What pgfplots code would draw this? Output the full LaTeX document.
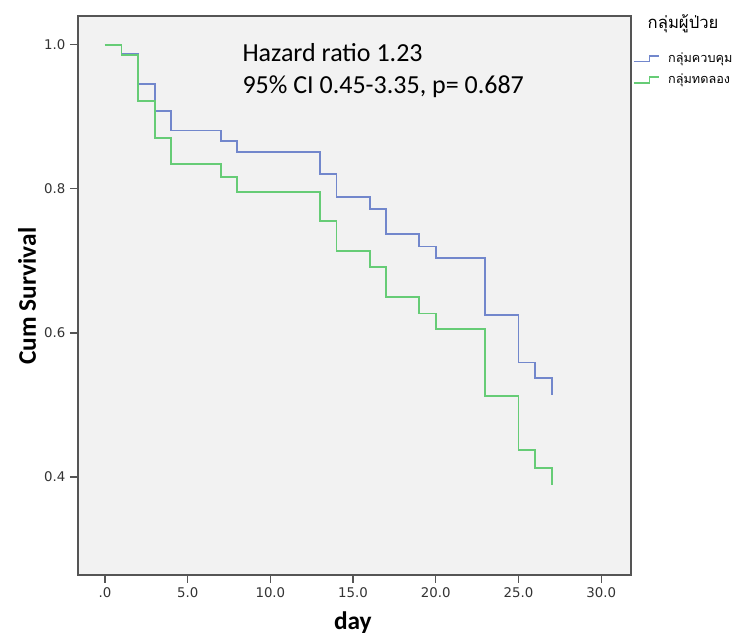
\documentclass[border=0pt]{standalone}
\usepackage{fontspec}
\setmainfont{Carlito}
\newfontfamily\tickfont{DejaVu Sans}
\newfontfamily\thaifont[Script=Thai]{Loma}
\usepackage{pgfplots}
\pgfplotsset{compat=1.18}
\definecolor{kmblue}{HTML}{7287CC}
\definecolor{kmgreen}{HTML}{66CC76}
\definecolor{framegray}{HTML}{555555}

\begin{document}
\begin{tikzpicture}
  \path[use as bounding box] (-58.5pt,-45pt) rectangle (495.75pt,431.25pt);
  \begin{axis}[
    at={(0pt,0pt)}, anchor=south west,
    scale only axis, width=414.75pt, height=419.25pt,
    xmin=-1.63, xmax=31.8, ymin=0.264, ymax=1.040,
    clip mode=individual,
    xtick={0,5,...,30}, xticklabels={.0,5.0,10.0,15.0,20.0,25.0,30.0},
    ytick={0.4,0.6,0.8,1.0}, yticklabels={0.4,0.6,0.8,1.0},
    tick align=outside, xtick pos=bottom, ytick pos=left,
    major tick length=6pt,
    tick style={framegray, line width=0.9pt},
    ticklabel style={font=\tickfont\fontsize{10}{12}\selectfont, text=black!80},
    axis line style={framegray, line width=1pt},
    axis background/.style={fill=black!5},
    xlabel={\bfseries day}, ylabel={\bfseries Cum Survival},
    label style={font=\fontsize{19}{22}\selectfont},
    xlabel style={at={(axis description cs:0.497,-0.098)}, anchor=base},
    ylabel style={at={(axis description cs:-0.092,0.499)}, anchor=center},
    legend style={at={(1.0,0.944)}, anchor=north west, draw=none, fill=none,
      font=\thaifont\fontsize{9.5}{11}\selectfont, row sep=3pt, inner xsep=1pt},
    legend cell align=left,
    legend image code/.code={%
      \draw[#1] (0pt,-2pt) -- (12pt,-2pt) -- (12pt,2pt) -- (19pt,2pt);
      \path[draw=none] (0pt,0pt) -- (24pt,0pt);},
  ]
    % control group
    \addplot[const plot, kmblue, line width=1.4pt, line join=miter] coordinates {
      (0,1) (1,0.988) (2,0.945) (3,0.908) (4,0.881) (7,0.866) (8,0.851)
      (13,0.821) (14,0.789) (16,0.772) (17,0.737) (19,0.720) (20,0.704)
      (23,0.625) (25,0.559) (26,0.537) (27,0.514)
    };
    \addlegendentry{กลุ่มควบคุม}
    % experimental group
    \addplot[const plot, kmgreen, line width=1.4pt, line join=miter] coordinates {
      (0,1) (1,0.986) (2,0.922) (3,0.871) (4,0.834) (7,0.817) (8,0.796)
      (13,0.756) (14,0.714) (16,0.692) (17,0.650) (19,0.627) (20,0.606)
      (23,0.513) (25,0.438) (26,0.413) (27,0.389)
    };
    \addlegendentry{กลุ่มทดลอง}
    \node[anchor=base west, font=\fontsize{19.5}{23}\selectfont]
      at (rel axis cs:0.289,0.918) {Hazard ratio 1.23};
    \node[anchor=base west, font=\fontsize{19.5}{23}\selectfont]
      at (rel axis cs:0.289,0.862) {95\% CI 0.45-3.35, p= 0.687};
    \node[anchor=base west, font=\thaifont\fontsize{12.5}{15}\selectfont]
      at (rel axis cs:1.0217,0.978) {กลุ่มผู้ป่วย};
  \end{axis}
\end{tikzpicture}
\end{document}
